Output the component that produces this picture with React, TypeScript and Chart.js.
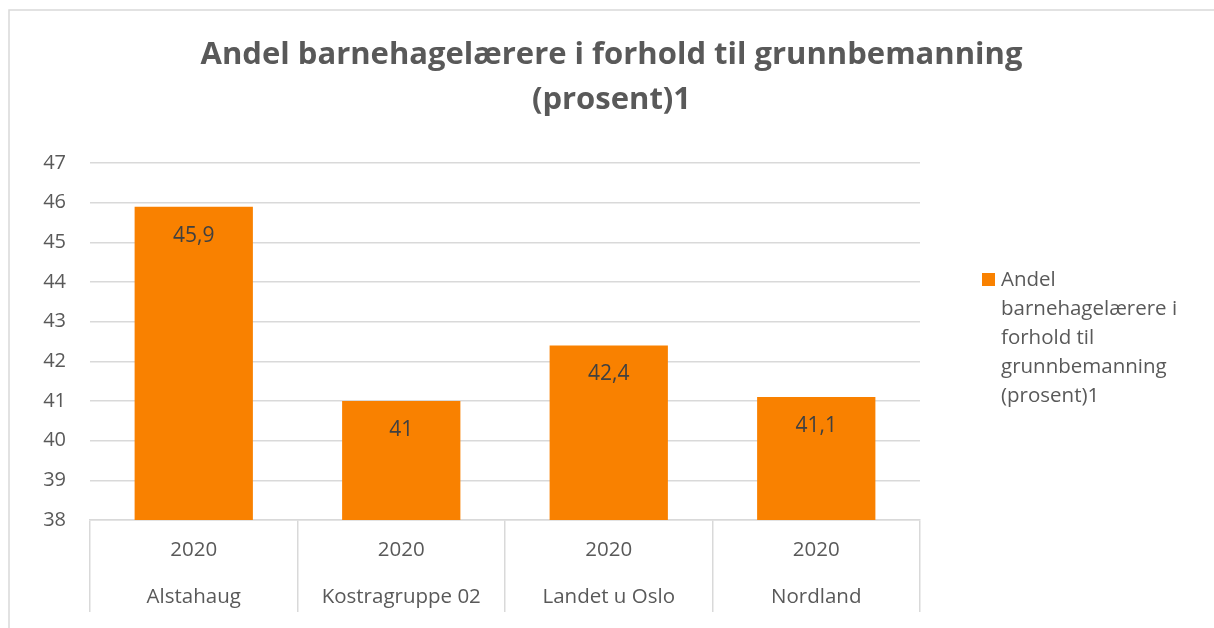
import React, { useEffect, useRef } from "react";
import { Chart, registerables, layouts } from "chart.js";

Chart.register(...registerables);

const categories = ["Alstahaug", "Kostragruppe 02", "Landet u Oslo", "Nordland"];
const years = ["2020", "2020", "2020", "2020"];
const values = [45.9, 41, 42.4, 41.1];
const seriesName = "Andel barnehagelærere i forhold til grunnbemanning (prosent)1";
const titleLines = ["Andel barnehagelærere i forhold til grunnbemanning", "(prosent)1"];
const legendLines = ["Andel", "barnehagelærere i", "forhold til", "grunnbemanning", "(prosent)1"];
const yMin = 38;
const yMax = 47;
const yStep = 1;

const FONT = "'Open Sans', 'Noto Sans', sans-serif";
const BAR = "#F98100";
const GRID = "#D9D9D9";
const TEXT = "#595959";

export default function App() {
  const ref = useRef<HTMLCanvasElement | null>(null);

  useEffect(() => {
    const canvas = ref.current;
    if (!canvas) return;

    const legendBox: any = {
      position: "right",
      weight: 0,
      fullSize: false,
      options: { stackWeight: 1 },
      width: 0,
      height: 0,
      left: 0,
      top: 0,
      right: 0,
      bottom: 0,
      ctx: null as any,
      isHorizontal() {
        return false;
      },
      update(maxWidth: number, maxHeight: number) {
        this.width = 294;
        this.height = maxHeight;
        return { width: 294, height: maxHeight };
      },
      draw() {
        const ctx = this.ctx as CanvasRenderingContext2D;
        ctx.save();
        const lh = 29;
        const startY = (this.top + this.bottom) / 2 - 2 * lh - 3.5;
        ctx.fillStyle = BAR;
        ctx.fillRect(this.left + 62, startY - 7, 13, 13);
        ctx.fillStyle = TEXT;
        ctx.font = `20.5px ${FONT}`;
        ctx.textBaseline = "middle";
        ctx.textAlign = "left";
        legendLines.forEach((line, i) => {
          ctx.fillText(line, this.left + 81, startY + i * lh);
        });
        ctx.restore();
      },
    };

    const legendPlugin = {
      id: "sideLegend",
      beforeInit(chart: any) {
        legendBox.ctx = chart.ctx;
        layouts.addBox(chart, legendBox);
      },
    };

    const framePlugin = {
      id: "frame",
      beforeDraw(chart: any) {
        const ctx = chart.ctx as CanvasRenderingContext2D;
        ctx.save();
        ctx.fillStyle = "#FFFFFF";
        ctx.fillRect(0, 0, chart.width, chart.height);
        ctx.strokeStyle = GRID;
        ctx.lineWidth = 1.5;
        ctx.beginPath();
        ctx.moveTo(chart.width, 10);
        ctx.lineTo(9, 10);
        ctx.lineTo(9, chart.height);
        ctx.stroke();
        ctx.restore();
      },
    };

    const dataLabelPlugin = {
      id: "dataLabels",
      afterDatasetsDraw(chart: any) {
        const ctx = chart.ctx as CanvasRenderingContext2D;
        const meta = chart.getDatasetMeta(0);
        ctx.save();
        ctx.fillStyle = "#404040";
        ctx.font = `21px ${FONT}`;
        ctx.textAlign = "center";
        ctx.textBaseline = "middle";
        meta.data.forEach((bar: any, i: number) => {
          const txt = String(values[i]).replace(".", ",");
          ctx.fillText(txt, bar.x, bar.y + 29);
        });
        ctx.restore();
      },
    };

    const chart = new Chart(canvas, {
      type: "bar",
      data: {
        labels: categories.map((c, i) => [years[i], c]),
        datasets: [
          {
            label: seriesName,
            data: values,
            backgroundColor: BAR,
            borderWidth: 0,
            barPercentage: 0.57,
            categoryPercentage: 1,
          },
        ],
      },
      options: {
        responsive: false,
        animation: false,
        devicePixelRatio: 1,
        layout: { padding: { top: 32.5, left: 9, right: 0, bottom: 0 } },
        plugins: {
          legend: { display: false },
          tooltip: { enabled: false },
          title: {
            display: true,
            text: titleLines,
            color: TEXT,
            font: { family: FONT, size: 31, weight: "bold", lineHeight: 45 / 31 },
            padding: { top: 0, bottom: 40.5 },
          },
        },
        scales: {
          x: {
            grid: {
              offset: true,
              drawOnChartArea: false,
              drawTicks: true,
              tickLength: 92,
              color: GRID,
              lineWidth: 1.5,
            },
            border: { display: true, color: GRID, width: 1.5 },
            ticks: {
              color: TEXT,
              font: { family: FONT, size: 20.5, lineHeight: 47 / 20.5 },
              padding: 6.5 - 92,
              maxRotation: 0,
              autoSkip: false,
            },
            afterFit(scale: any) {
              scale.height = 108;
            },
          },
          y: {
            min: yMin,
            max: yMax,
            grid: { color: GRID, lineWidth: 1.5, drawTicks: false },
            border: { display: false },
            ticks: {
              stepSize: yStep,
              color: TEXT,
              font: { family: FONT, size: 20 },
              padding: 24,
            },
            afterFit(scale: any) {
              scale.width = 81;
            },
          },
        },
      },
      plugins: [framePlugin, legendPlugin, dataLabelPlugin],
    } as any);

    return () => chart.destroy();
  }, []);

  return (
    <div style={{ position: "fixed", left: 0, top: 0, width: 1214, height: 628, background: "#fff" }}>
      <canvas ref={ref} width={1214} height={628} style={{ display: "block", width: 1214, height: 628 }} />
    </div>
  );
}
